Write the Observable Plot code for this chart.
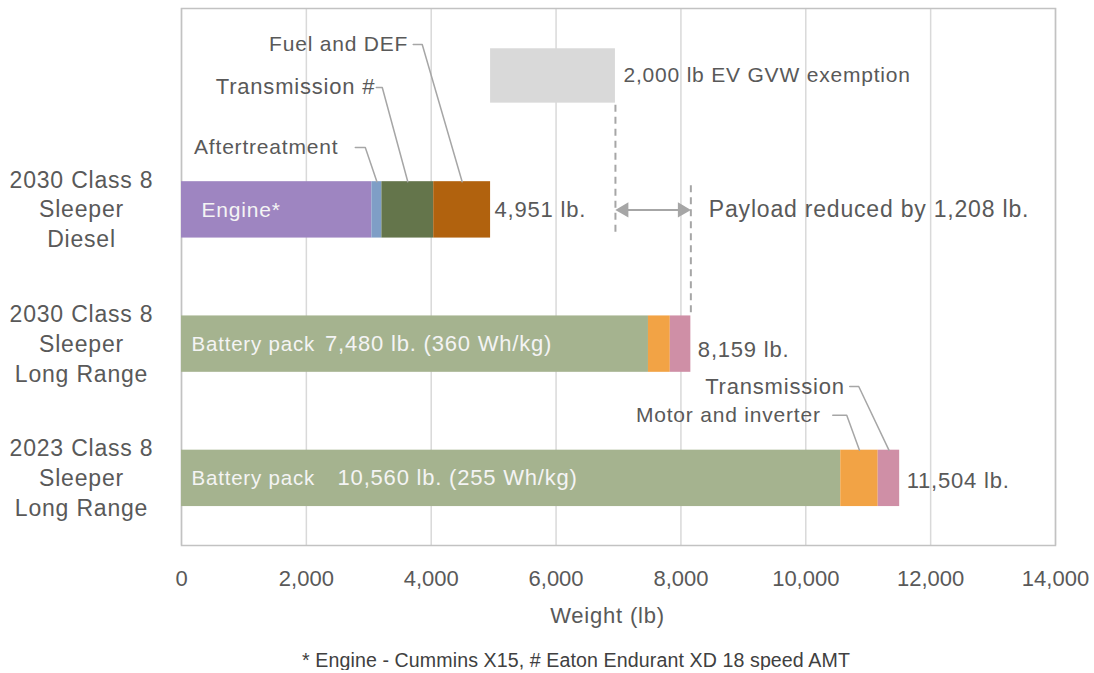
<!DOCTYPE html>
<html><head><meta charset="utf-8">
<script src="https://cdn.jsdelivr.net/npm/d3@7"></script>
<script src="https://cdn.jsdelivr.net/npm/@observablehq/plot@0.6"></script>
<style>
body{margin:0;background:#fff;font-family:"Liberation Sans",Arial,sans-serif;}
#chart svg text{letter-spacing:0.8px;}
#chart svg g[aria-label="x-axis tick label"] text{letter-spacing:0;}
#caption{width:1036px;padding-left:58px;text-align:center;font-size:19.6px;line-height:20px;padding-top:5px;color:#404040;letter-spacing:0.1px;}
</style></head><body>
<div id="chart"></div>
<div id="caption">* Engine - Cummins X15, # Eaton Endurant XD 18 speed AMT</div>
<script>
// ---- data ----
const categories = ["2030 Class 8\nSleeper\nDiesel", "2030 Class 8\nSleeper\nLong Range", "2023 Class 8\nSleeper\nLong Range"];
const dieselParts = ["Engine", "Aftertreatment", "Diesel transmission", "Fuel and DEF"];
const dieselWeights = [3050, 160, 830, 911];
const evParts = ["Battery pack", "Motor and inverter", "EV transmission"];
const ev2030Weights = [7480, 350, 329];
const ev2023Weights = [10560, 600, 344];
const totalLabels = ["4,951 lb.", "8,159 lb.", "11,504 lb."];
const batteryLabels = ["7,480 lb. (360 Wh/kg)", "10,560 lb. (255 Wh/kg)"];
const exemptionLb = 2000;
const payloadReduction = "Payload reduced by 1,208 lb.";
const xTicks = [0, 2000, 4000, 6000, 8000, 10000, 12000, 14000];

// palette
const partKeys = ["Engine", "Aftertreatment", "Diesel transmission", "Fuel and DEF", "Battery pack", "Motor and inverter", "EV transmission"];
const partColors = ["#9e85c1", "#7f9ec6", "#64754b", "#b1620e", "#a5b38f", "#f2a345", "#cf8fa6"];

// ---- build ----
const H = 0.21; // half bar thickness (row units)
const rowsDef = [
  {row: 1, parts: dieselParts, weights: dieselWeights},
  {row: 2, parts: evParts, weights: ev2030Weights},
  {row: 3, parts: evParts, weights: ev2023Weights}
];
const segs = [];
for (const r of rowsDef) {
  let acc = 0;
  r.parts.forEach((p, i) => {
    segs.push({row: r.row, part: p, idx: i, x1: acc, x2: acc + r.weights[i]});
    acc += r.weights[i];
  });
  r.total = acc;
}
const dieselTotal = rowsDef[0].total, ev2030Total = rowsDef[1].total;
const segOf = (row, idx) => segs.find(s => s.row === row && s.idx === idx);

const callouts = [
  {label: "Aftertreatment", row: 1, idx: 1, textX: 2512, textRow: 0.535, from: 2784, elbow: 2944, size: 21},
  {label: "Transmission #", row: 1, idx: 2, textX: 3104, textRow: 0.088, from: 3120, elbow: 3216, size: 22},
  {label: "Fuel and DEF", row: 1, idx: 3, textX: 3632, textRow: -0.232, from: 3712, elbow: 3856, size: 21},
  {label: "Motor and inverter", row: 3, idx: 1, textX: 10240, textRow: 2.53, from: 10432, elbow: 10656, size: 21},
  {label: "Transmission", row: 3, idx: 2, textX: 10624, textRow: 2.316, from: 10704, elbow: 10848, size: 22}
];
const leaderPts = [];
callouts.forEach((c, k) => {
  const s = segOf(c.row, c.idx);
  leaderPts.push({id: k, x: c.from, y: c.textRow});
  leaderPts.push({id: k, x: c.elbow, y: c.textRow});
  leaderPts.push({id: k, x: (s.x1 + s.x2) / 2, y: c.row - H});
});

const exemptionEnd = dieselTotal + exemptionLb;
const dashes = [
  {x: exemptionEnd, y1: 0.22, y2: 1.19},
  {x: ev2030Total, y1: 0.82, y2: 2 - H}
];

const gray = "#595959";
const chart = Plot.plot({
  width: 1094, height: 645,
  marginLeft: 181, marginRight: 39, marginTop: 8, marginBottom: 100,
  style: {fontFamily: "'Liberation Sans', Arial, sans-serif", color: gray, background: "white", fontSize: "21px"},
  x: {domain: [0, 14000]},
  y: {domain: [3.5, -0.5], axis: null},
  color: {domain: partKeys, range: partColors},
  marks: [
    Plot.gridX(xTicks, {stroke: "#d9d9d9", strokeOpacity: 1, strokeWidth: 1.5}),
    Plot.frame({stroke: "#c2c2c2", strokeWidth: 1.5}),
    Plot.axisX(xTicks, {tickSize: 0, tickPadding: 25, tickFormat: d3.format(","), fontSize: 22, label: null}),
    Plot.text(["Weight (lb)"], {frameAnchor: "bottom", dy: 77, dx: -11, fontSize: 22, fill: gray}),
    // category labels
    Plot.text(categories, {y: (d, i) => i + 1, text: d => d, frameAnchor: "left", dx: -100, dy: -2, textAnchor: "middle", fontSize: 23, lineHeight: 1.3, fill: gray}),
    // exemption box
    Plot.rect([{x1: dieselTotal, x2: exemptionEnd}], {x1: "x1", x2: "x2", y1: -0.2, y2: 0.205, fill: "#d9d9d9"}),
    Plot.text(["2,000 lb EV GVW exemption"], {x: exemptionEnd, y: 0, dx: 8, textAnchor: "start", fontSize: 21, fill: gray}),
    // bars
    Plot.rect(segs, {x1: "x1", x2: "x2", y1: d => d.row - H, y2: d => d.row + H, fill: "part"}),
    // dashed guide lines
    Plot.ruleX(dashes, {x: "x", y1: "y1", y2: "y2", stroke: "#a6a6a6", strokeWidth: 2, strokeDasharray: "7,5"}),
    // double arrow
    Plot.ruleY([1], {x1: exemptionEnd, x2: ev2030Total, stroke: "#a6a6a6", strokeWidth: 2, insetLeft: 8, insetRight: 8}),
    Plot.dot([exemptionEnd], {x: d => d, y: 1, symbol: "triangle", r: 5.6, fill: "#a6a6a6", stroke: null, rotate: -90, dx: 8.6}),
    Plot.dot([ev2030Total], {x: d => d, y: 1, symbol: "triangle", r: 5.6, fill: "#a6a6a6", stroke: null, rotate: 90, dx: -8.6}),
    Plot.text([payloadReduction], {x: ev2030Total, y: 1, dx: 18, textAnchor: "start", fontSize: 23, fill: gray}),
    // totals
    Plot.text(rowsDef.slice(0, 1), {x: "total", y: "row", text: () => totalLabels[0], dx: 4, textAnchor: "start", fontSize: 22, fill: gray}),
    Plot.text(rowsDef.slice(1, 2), {x: "total", y: "row", text: () => totalLabels[1], dx: 7, dy: 6, textAnchor: "start", fontSize: 22, fill: gray}),
    Plot.text(rowsDef.slice(2, 3), {x: "total", y: "row", text: () => totalLabels[2], dx: 7, dy: 3, textAnchor: "start", fontSize: 22, fill: gray}),
    // inside labels
    Plot.text(["Engine*"], {x: 0, y: 1, dx: 20, textAnchor: "start", fontSize: 21, fill: "#f4f4f4"}),
    Plot.text([2, 3], {x: 0, y: d => d, text: () => "Battery pack", dx: 10, textAnchor: "start", fontSize: 20.5, fill: "#f4f4f4"}),
    Plot.text([2, 3], {x: [2300, 2500], y: d => d, text: (d, i) => batteryLabels[i], textAnchor: "start", fontSize: 22, fill: "#f4f4f4"}),
    // callouts
    Plot.line(leaderPts, {x: "x", y: "y", z: "id", stroke: "#a6a6a6", strokeWidth: 1.5}),
    Plot.text(callouts, {x: "textX", y: "textRow", text: "label", textAnchor: "end", fontSize: d => d.size, fill: gray})
  ]
});
document.getElementById("chart").appendChild(chart);
</script>
</body></html>
